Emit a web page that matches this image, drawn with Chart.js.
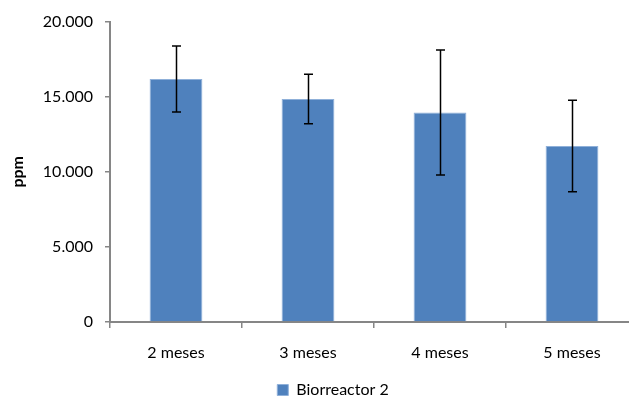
<!DOCTYPE html>
<html>
<head>
<meta charset="utf-8">
<script src="https://cdn.jsdelivr.net/npm/chart.js@4/dist/chart.umd.min.js"></script>
<style>
  html, body { margin: 0; padding: 0; background: #fff; overflow: hidden; }
  #wrap { width: 670px; height: 396px; }
</style>
</head>
<body>
<div id="wrap"><canvas id="chart"></canvas></div>
<script>
// ── Data ──
const categories = ['2 meses', '3 meses', '4 meses', '5 meses'];
const values = [16180, 14850, 13950, 11720];
const errors = [2200, 1650, 4160, 3050];
const yTicks = [0, 5000, 10000, 15000, 20000];

const FONT = 'Lato, "Open Sans", sans-serif';
const AXIS_GREY = '#868686';

function fmtThousands(v) {
  return String(v).replace(/\B(?=(\d{3})+(?!\d))/g, '.');
}

// error bars drawn through the y scale
const errorBars = {
  id: 'errorBars',
  afterDatasetsDraw(chart) {
    const { ctx } = chart;
    const y = chart.scales.y;
    const meta = chart.getDatasetMeta(0);
    ctx.save();
    ctx.strokeStyle = '#000';
    ctx.lineWidth = 1.5;
    meta.data.forEach((bar, i) => {
      const top = y.getPixelForValue(values[i] + errors[i]);
      const bot = y.getPixelForValue(values[i] - errors[i]);
      const x = Math.round(bar.x) + 0.5;
      ctx.beginPath();
      ctx.moveTo(x, top); ctx.lineTo(x, bot);
      ctx.moveTo(x - 4.5, top); ctx.lineTo(x + 4.5, top);
      ctx.moveTo(x - 4.5, bot); ctx.lineTo(x + 4.5, bot);
      ctx.stroke();
    });
    ctx.restore();
  }
};

// nudge the legend right/down, like the Excel original
const legendShift = {
  id: 'legendShift',
  afterLayout(chart) {
    if (chart.legend) {
      chart.legend.left += 10;
      chart.legend.right += 10;
      chart.legend.top += 3;
      chart.legend.bottom += 3;
    }
  }
};

new Chart(document.getElementById('chart'), {
  type: 'bar',
  data: {
    labels: categories,
    datasets: [{
      label: 'Biorreactor 2',
      data: values,
      backgroundColor: '#4f81bd',
      borderColor: '#8fb0d9',
      borderWidth: 1,
      categoryPercentage: 1,
      barPercentage: 0.4
    }]
  },
  options: {
    responsive: true,
    maintainAspectRatio: false,
    animation: false,
    layout: { padding: { top: 18, left: 8, right: 32, bottom: -9 } },
    plugins: {
      tooltip: { enabled: false },
      legend: {
        position: 'bottom',
        labels: {
          color: '#000',
          font: { family: FONT, size: 16 },
          boxWidth: 11,
          boxHeight: 11,
          padding: 1
        }
      }
    },
    scales: {
      x: {
        afterFit: s => { s.height = 56; },
        grid: { drawOnChartArea: false, color: AXIS_GREY, tickLength: 6, lineWidth: 1.5 },
        border: { color: AXIS_GREY, width: 2 },
        ticks: { color: '#000', font: { family: FONT, size: 16 }, padding: 15 }
      },
      y: {
        min: 0,
        max: 20000,
        afterBuildTicks: s => { s.ticks = yTicks.map(v => ({ value: v })); },
        afterFit: s => { s.width = 102; },
        grid: { drawOnChartArea: false, color: AXIS_GREY, tickLength: 5, lineWidth: 1.5 },
        border: { color: AXIS_GREY, width: 2 },
        ticks: {
          color: '#000',
          font: { family: FONT, size: 16 },
          padding: 12,
          callback: v => fmtThousands(v)
        },
        title: {
          display: true,
          text: 'ppm',
          color: '#000',
          font: { family: FONT, size: 16, weight: 'bold' },
          padding: { top: 0, bottom: 4 }
        }
      }
    }
  },
  plugins: [errorBars, legendShift]
});
</script>
</body>
</html>
